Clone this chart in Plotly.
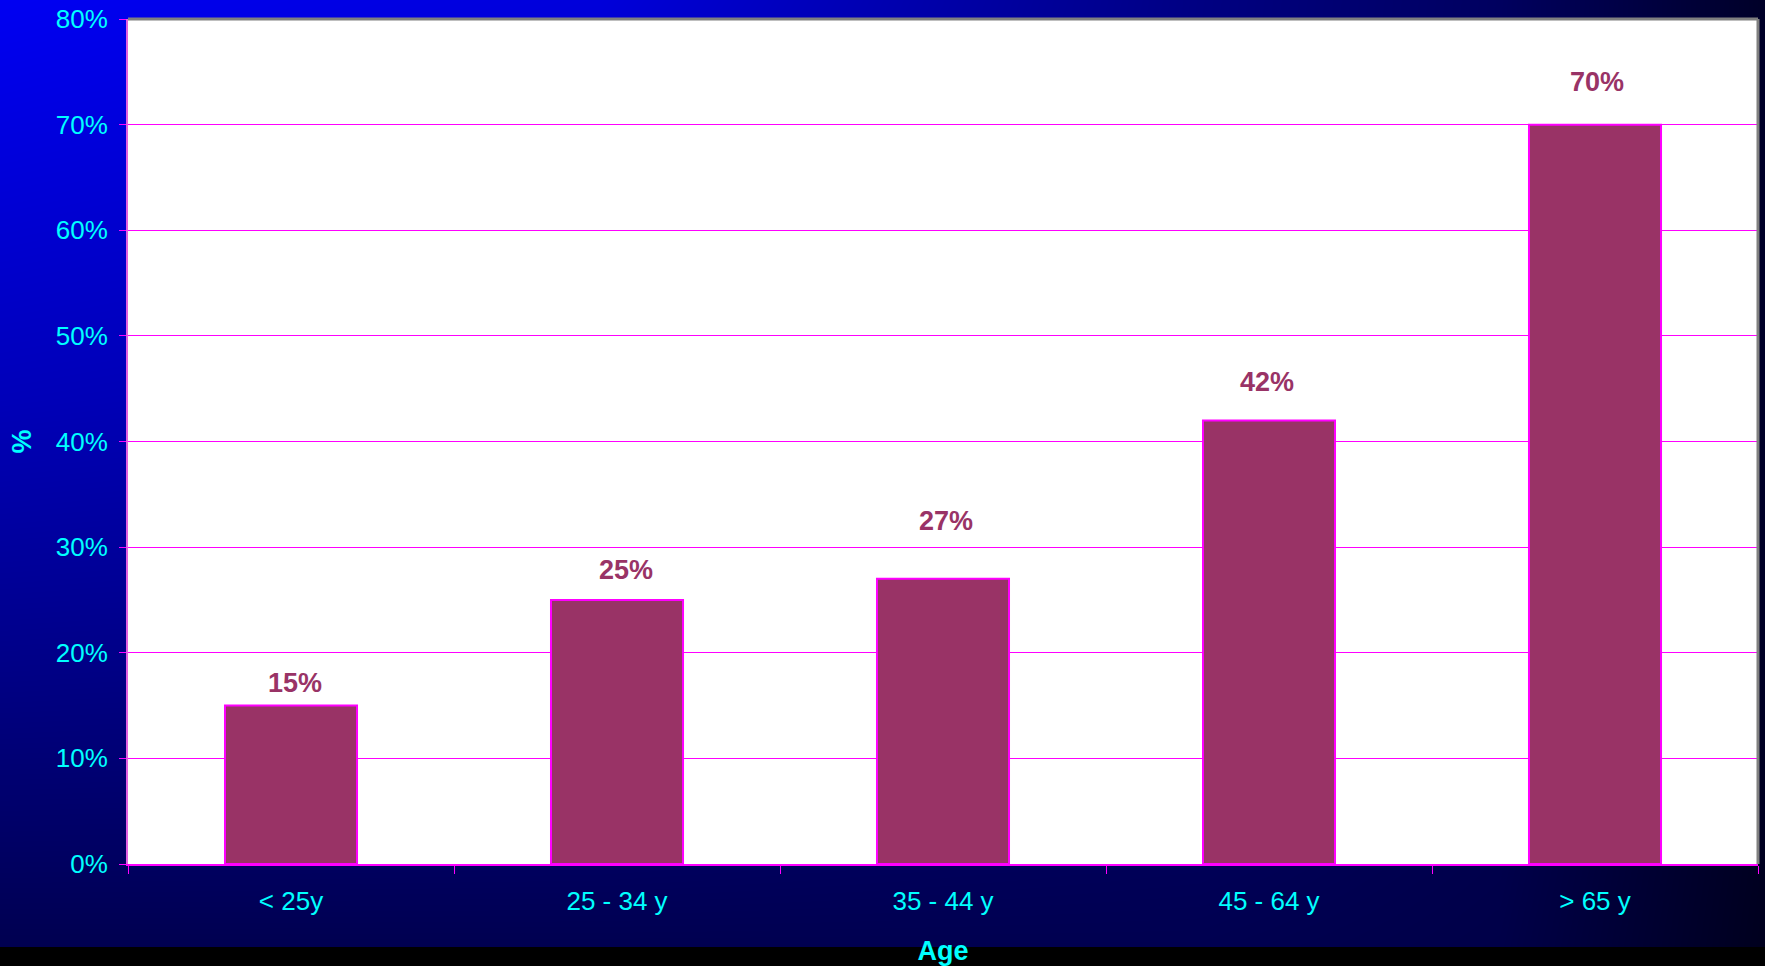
import plotly.graph_objects as go

# ---- data -------------------------------------------------------------
age_groups = ["< 25y", "25 - 34 y", "35 - 44 y", "45 - 64 y", "> 65 y"]
share_pct = [15, 25, 27, 42, 70]
y_ticks = [0, 10, 20, 30, 40, 50, 60, 70, 80]
y_tick_text = [f"{t}%" for t in y_ticks]

# extra lift (px) of each value label above its bar top
label_lift = [23, 30, 58, 38, 43]
label_nudge = [4, 9, 3, -2, 2]

# ---- background gradient (blue channel on a coarse grid, smoothed) ---
bg_x = [0, 0.34, 0.68, 0.85, 1.0]
bg_y = [0, 0.37, 0.58, 1.0]
bg_blue = [
    [80, 80, 80, 72, 30],
    [148, 140, 110, 85, 38],
    [185, 170, 122, 90, 40],
    [242, 218, 130, 95, 40],
]

W, H = 1765, 966
plot_left, plot_right, plot_top, plot_bottom = 128, 1758, 19, 864
strip_h = 19  # black strip along the bottom edge

CYAN = "#00FFFF"
MAGENTA = "#FF00FF"
BAR = "#993366"
FONT = "Liberation Sans, Arial, sans-serif"
TICK_SIZE = 26
BOLD_SIZE = 27

fig = go.Figure()

fig.add_trace(go.Heatmap(
    x=bg_x, y=bg_y, z=bg_blue,
    zmin=0, zmax=255, zsmooth="best",
    colorscale=[[0, "rgb(0,0,0)"], [1, "rgb(0,0,255)"]],
    showscale=False, hoverinfo="skip",
    xaxis="x", yaxis="y",
))

fig.add_trace(go.Bar(
    x=age_groups, y=share_pct,
    marker=dict(color=BAR, line=dict(color=MAGENTA, width=2)),
    xaxis="x2", yaxis="y2",
    hovertemplate="%{x}: %{y}%<extra></extra>",
))

annotations = []
for cat, v, dy, dx in zip(age_groups, share_pct, label_lift, label_nudge):
    annotations.append(dict(
        x=cat, y=v, xref="x2", yref="y2",
        text=f"<b>{v}%</b>", showarrow=False,
        yanchor="middle", yshift=dy, xshift=dx,
        font=dict(family=FONT, size=BOLD_SIZE, color=BAR),
    ))

xd = [plot_left / W, plot_right / W]
yd = [(H - plot_bottom) / H, (H - plot_top) / H]

fig.update_layout(
    width=W, height=H,
    margin=dict(l=0, r=0, t=0, b=0),
    paper_bgcolor="black",
    plot_bgcolor="white",
    showlegend=False,
    bargap=0.595,
    font=dict(family=FONT, color=CYAN, size=TICK_SIZE),
    xaxis=dict(domain=[0, 1], range=[0, 1], visible=False, fixedrange=True,
               anchor="y"),
    yaxis=dict(domain=[strip_h / H, 1], range=[0, 1], visible=False,
               fixedrange=True, anchor="x"),
    xaxis2=dict(
        domain=xd, anchor="y2", automargin=False,
        type="category", showgrid=False,
        showline=True, linecolor=MAGENTA, linewidth=2,
        ticks="outside", tickson="boundaries", ticklen=8,
        tickcolor=MAGENTA, tickwidth=1,
        ticklabelstandoff=13,
        tickfont=dict(family=FONT, size=TICK_SIZE, color=CYAN),
        title=dict(text="<b>Age</b>", standoff=28,
                   font=dict(family=FONT, size=BOLD_SIZE, color=CYAN)),
    ),
    yaxis2=dict(
        domain=yd, anchor="x2", automargin=False,
        range=[0, 80], tickvals=y_ticks, ticktext=y_tick_text,
        showgrid=True, gridcolor=MAGENTA, gridwidth=1,
        zeroline=False,
        showline=True, linecolor="#E060E0", linewidth=2,
        ticks="outside", ticklen=7, tickcolor=MAGENTA, tickwidth=1,
        ticklabelstandoff=6,
        tickfont=dict(family=FONT, size=TICK_SIZE, color=CYAN),
        title=dict(text="<b>%</b>", standoff=16,
                   font=dict(family=FONT, size=BOLD_SIZE, color=CYAN)),
    ),
    annotations=annotations,
    shapes=[
        dict(type="line", xref="x2 domain", yref="y2 domain",
             x0=0, x1=1, y0=1, y1=1, line=dict(color="#808080", width=3),
             layer="above"),
        dict(type="line", xref="x2 domain", yref="y2 domain",
             x0=1, x1=1, y0=0, y1=1, line=dict(color="#808080", width=3),
             layer="above"),
    ],
)

fig.write_html("out.html")
